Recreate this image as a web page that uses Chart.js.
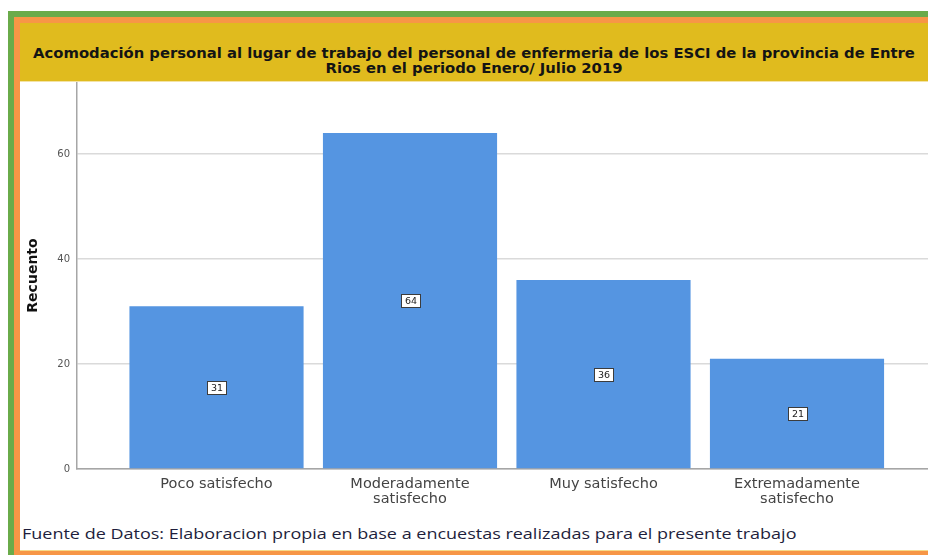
<!DOCTYPE html>
<html>
<head>
<meta charset="utf-8">
<script src="https://cdn.jsdelivr.net/npm/chart.js@4.4.1/dist/chart.umd.min.js"></script>
<style>
    body { margin: 0; width: 928px; height: 555px; position: relative; overflow: hidden; background: #fff; }
    .green { position: absolute; left: 8px; top: 11px; right: 0; bottom: 0; background: #6aab4a; }
    .orange { position: absolute; left: 14px; top: 17px; right: 0; bottom: 0; background: #f79646; }
    .inner { position: absolute; left: 20px; top: 23px; right: 0; bottom: 4px; background: #fff; border-bottom: 1px solid #f6d98a; }
    .title {
        position: absolute; left: 20px; top: 23px; width: 908px; height: 59px;
        background: #e0bb1e; border-bottom: 1px solid #f3e3a6; box-sizing: border-box;
        padding-top: 22px; text-align: center; white-space: nowrap;
        font: bold 14.8px "DejaVu Sans"; line-height: 15px; color: #141414;
    }
    .plot { position: absolute; left: 20px; top: 82px; width: 908px; height: 440px; }
    .footer {
        position: absolute; left: 22px; top: 524px; white-space: nowrap;
        font: 14px "Open Sans"; color: #1e1e3c;
        transform: scaleX(1.285); transform-origin: 0 0;
    }
</style>
</head>
<body>
<div class="green"></div>
<div class="orange"></div>
<div class="inner"></div>
<div class="title">Acomodación personal al lugar de trabajo del personal de enfermeria de los ESCI de la provincia de Entre<br>Rios en el periodo Enero/ Julio 2019</div>
<div class="plot"><canvas id="myChart" width="908" height="440"></canvas></div>
<div class="footer">Fuente de Datos: Elaboracion propia en base a encuestas realizadas para el presente trabajo</div>

<script>
const categories = ['Poco satisfecho', 'Moderadamente satisfecho', 'Muy satisfecho', 'Extremadamente satisfecho'];
const tickLabels = [['Poco satisfecho'], ['Moderadamente', 'satisfecho'], ['Muy satisfecho'], ['Extremadamente', 'satisfecho']];
const counts = [31, 64, 36, 21];
const yTicks = [0, 20, 40, 60];

// white boxes with the count in the middle of each bar
const boxLabels = {
    id: 'boxLabels',
    afterDatasetsDraw(chart) {
        const ctx = chart.ctx;
        const meta = chart.getDatasetMeta(0);
        ctx.save();
        ctx.font = '9.5px "DejaVu Sans"';
        ctx.textAlign = 'center';
        ctx.textBaseline = 'middle';
        meta.data.forEach(function (bar, i) {
            const txt = String(counts[i]);
            const w = Math.round(ctx.measureText(txt).width + 7);
            const h = 13;
            const x = Math.round(bar.x - w / 2) + 0.5;
            const y = Math.round((bar.y + bar.base) / 2 - h / 2) + 0.5;
            ctx.fillStyle = '#fff';
            ctx.fillRect(x, y, w, h);
            ctx.strokeStyle = '#3c3c3c';
            ctx.lineWidth = 1;
            ctx.strokeRect(x, y, w, h);
            ctx.fillStyle = '#222';
            ctx.fillText(txt, x + w / 2, y + h / 2 + 0.5);
        });
        ctx.restore();
    }
};

const ctx = document.getElementById('myChart');
const myChart = new Chart(ctx, {
    type: 'bar',
    data: {
        datasets: [{
            data: counts.map(function (v, i) { return { x: i, y: v }; }),
            backgroundColor: '#5595e1',
            borderWidth: 0,
            categoryPercentage: 1,
            barPercentage: 0.9
        }]
    },
    options: {
        responsive: false,
        animation: false,
        layout: { padding: 0 },
        plugins: {
            legend: { display: false },
            tooltip: { enabled: false }
        },
        scales: {
            x: {
                type: 'linear',
                offset: false,
                min: -0.721,
                max: 3.677,
                afterBuildTicks: function (s) { s.ticks = categories.map(function (c, i) { return { value: i }; }); },
                afterFit: function (s) { s.height = 53; s.paddingLeft = 0; s.paddingRight = 0; },
                grid: { display: true, offset: false, drawOnChartArea: false, drawTicks: false },
                border: { color: '#a6a6a6', width: 1.5 },
                ticks: {
                    autoSkip: false,
                    maxRotation: 0,
                    padding: 8,
                    color: '#444',
                    font: { family: '"DejaVu Sans"', size: 14.5, lineHeight: '15px' },
                    callback: function (v) { return tickLabels[v]; }
                }
            },
            y: {
                min: 0,
                max: 73.7,
                afterBuildTicks: function (s) { s.ticks = yTicks.map(function (v) { return { value: v }; }); },
                afterFit: function (s) { s.width = 57; s.paddingTop = 0; s.paddingBottom = 0; },
                grid: { color: '#dadada', lineWidth: 1.5, drawTicks: false },
                border: { color: '#a6a6a6', width: 1.5 },
                ticks: { padding: 7, color: '#555', font: { family: '"DejaVu Sans"', size: 10 } },
                title: {
                    display: true,
                    text: 'Recuento',
                    color: '#111',
                    font: { family: '"DejaVu Sans"', size: 14, weight: 'bold' },
                    padding: { top: 5, bottom: 0 }
                }
            }
        }
    },
    plugins: [boxLabels]
});
</script>
</body>
</html>
